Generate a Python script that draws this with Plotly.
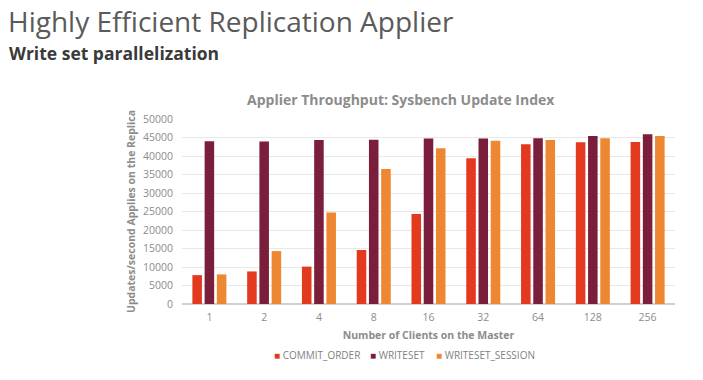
import plotly.graph_objects as go

categories = ["1", "2", "4", "8", "16", "32", "64", "128", "256"]
commit_order = [7800, 8800, 10100, 14600, 24300, 39400, 43200, 43700, 43800]
writeset = [44000, 43900, 44300, 44400, 44700, 44700, 44800, 45400, 45900]
writeset_session = [8000, 14300, 24700, 36500, 42100, 44100, 44300, 44800, 45400]
y_ticks = [0, 5000, 10000, 15000, 20000, 25000, 30000, 35000, 40000, 45000, 50000]
series_names = ["COMMIT_ORDER", "WRITESET", "WRITESET_SESSION"]
series_colors = ["#E2391F", "#7B1E3C", "#EE8732"]

font = "Open Sans"
W, H = 703, 380
L, T = 182, 119
R = W - 675
B = H - 304
pw, ph = W - L - R, H - T - B

fig = go.Figure()
for name, vals, col in zip(series_names, [commit_order, writeset, writeset_session], series_colors):
    fig.add_trace(go.Bar(x=categories, y=vals, name=name, marker_color=col,
                         marker_line_width=0))

fig.update_layout(
    width=W, height=H,
    margin=dict(l=L, r=R, t=T, b=B, autoexpand=False),
    paper_bgcolor="white", plot_bgcolor="white",
    barmode="group", bargap=0.33, bargroupgap=0.22,
    font=dict(family=font, color="#8c8c8c", size=10),
    showlegend=False,
)
fig.update_xaxes(type="category", showgrid=False, showline=False, ticks="",
                 automargin=False, ticklabelstandoff=5,
                 tickfont=dict(size=10.5, color="#8c8c8c"),
                 title=dict(text="<b>Number of Clients on the Master</b>",
                            font=dict(size=10.5, color="#8c8c8c"), standoff=9))
fig.update_yaxes(range=[0, 50000], tickvals=y_ticks, tickformat="d", showgrid=True,
                 automargin=False, ticklabelstandoff=8,
                 gridcolor="#e8e8e8", gridwidth=1, zeroline=True,
                 zerolinecolor="#d0d0d0", showline=False, ticks="",
                 tickfont=dict(size=10.5, color="#8c8c8c"),
                 title=dict(text="<b>Updates/second Applies on the Replica</b>",
                            font=dict(size=10.5, color="#8c8c8c"), standoff=5))

def px_x(x):
    return (x - L) / pw

def px_y(y):
    return 1 - (y - T) / ph

fig.add_annotation(text="Highly Efficient Replication Applier", xref="paper", yref="paper",
                   x=px_x(6), y=px_y(21), xanchor="left", yanchor="middle",
                   showarrow=False, font=dict(family=font, size=28, color="#5a5a5a"))
fig.add_annotation(text="<b>Write set parallelization</b>", xref="paper", yref="paper",
                   x=px_x(7), y=px_y(53), xanchor="left", yanchor="middle",
                   showarrow=False, font=dict(family=font, size=17.5, color="#3a3a3a"))
fig.add_annotation(text="<b>Applier Throughput: Sysbench Update Index</b>", xref="paper", yref="paper",
                   x=px_x(401), y=px_y(99), xanchor="center", yanchor="middle",
                   showarrow=False, font=dict(family=font, size=14, color="#8c8c8c"))

legend_x = [272, 368, 434]
for name, col, lx in zip(series_names, series_colors, legend_x):
    fig.add_annotation(text=f'<span style="color:{col}">■</span> {name}',
                       xref="paper", yref="paper", x=px_x(lx), y=px_y(355),
                       xanchor="left", yanchor="middle", showarrow=False,
                       font=dict(family=font, size=10, color="#7f7f7f"))

fig.write_html("out.html", config={"displayModeBar": False},
               post_script="document.body.style.margin='0';")
